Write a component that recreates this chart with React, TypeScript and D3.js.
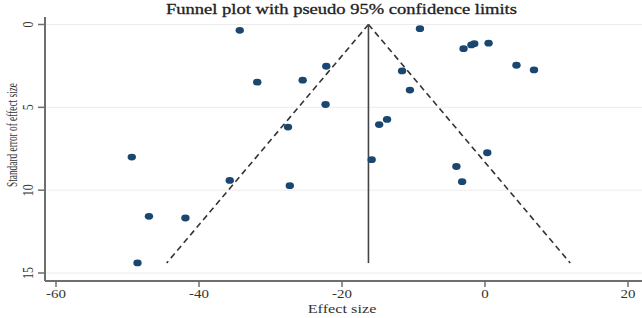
import React from "react";
import * as d3 from "d3";

// study estimates
const effectSizes = [
  -34.3, -9.1, -3.0, -1.9, -1.5, 0.5, 4.4, 6.85, -31.85, -25.5, -22.2, -11.6,
  -10.5, -22.3, -27.55, -14.8, -13.7, -49.4, -15.85, 0.32, -4.0, -3.2, -35.7,
  -27.3, -47.0, -41.9, -48.6,
];
const standardErrors = [
  0.35, 0.25, 1.46, 1.23, 1.16, 1.13, 2.46, 2.74, 3.48, 3.36, 2.52, 2.8, 3.96,
  4.83, 6.19, 6.04, 5.73, 8.0, 8.16, 7.74, 8.57, 9.49, 9.41, 9.73, 11.58,
  11.68, 14.39,
];
const pooledEffect = [-16.3];
const maxSE = [14.4];
const xTicks = [-60, -40, -20, 0, 20];
const yTicks = [0, 5, 10, 15];

const W = 642;
const H = 318;
const FONT = "'Liberation Serif', 'Times New Roman', serif";
const STRETCH = 1.3; // the picture is wider than tall, glyphs look stretched

const App = () => {
  const x = d3.scaleLinear().domain([-60, 20]).range([56, 628]);
  const y = d3.scaleLinear().domain([0, 15]).range([24.5, 273]);
  const left = 45;
  const bottom = 281;

  const centre = pooledEffect[0];
  const seMax = maxSE[0];
  const line = d3
    .line<[number, number]>()
    .x((d) => x(d[0]))
    .y((d) => y(d[1]));
  const leftLimit = line([
    [centre, 0],
    [centre - 1.96 * seMax, seMax],
  ]);
  const rightLimit = line([
    [centre, 0],
    [centre + 1.96 * seMax, seMax],
  ]);

  return (
    <svg
      width={W}
      height={H}
      style={{ position: "absolute", left: 0, top: 0, background: "#fff" }}
      fontFamily={FONT}
    >
      {/* grid */}
      {yTicks.map((t) => (
        <line key={"g" + t} x1={left} x2={W} y1={y(t)} y2={y(t)} stroke="#ececec" strokeWidth={1} />
      ))}

      {/* title */}
      <text
        x={166}
        y={14}
        fontSize={14.5}
        fill="#222"
        stroke="#222"
        strokeWidth={0.3}
        textLength={351}
        lengthAdjust="spacingAndGlyphs"
      >
        Funnel plot with pseudo 95% confidence limits
      </text>

      {/* y axis */}
      <line x1={left} x2={left} y1={17} y2={bottom} stroke="#6e6e6e" strokeWidth={2} />
      {yTicks.map((t) => (
        <g key={"y" + t}>
          <line x1={left - 7} x2={left} y1={y(t)} y2={y(t)} stroke="#6e6e6e" strokeWidth={1.5} />
          <text
            transform={`translate(33,${y(t)}) rotate(-90) scale(1,${STRETCH})`}
            textAnchor="middle"
            fontSize={12}
            fill="#333"
          >
            {t}
          </text>
        </g>
      ))}
      <text
        transform={`translate(17,135) rotate(-90) scale(1,1.45)`}
        textAnchor="middle"
        fontSize={9.5}
        fill="#333"
        textLength={104}
        lengthAdjust="spacingAndGlyphs"
      >
        Standard error of effect size
      </text>

      {/* x axis */}
      <line x1={left} x2={W} y1={bottom} y2={bottom} stroke="#6e6e6e" strokeWidth={2} />
      {xTicks.map((t) => (
        <g key={"x" + t}>
          <line x1={x(t)} x2={x(t)} y1={bottom} y2={bottom + 6} stroke="#6e6e6e" strokeWidth={1.5} />
          <text
            transform={`translate(${x(t)},297.5) scale(${STRETCH},1)`}
            textAnchor="middle"
            fontSize={11.5}
            fill="#333"
          >
            {t}
          </text>
        </g>
      ))}
      <text
        transform={`translate(342,312.5) scale(${STRETCH},1)`}
        textAnchor="middle"
        fontSize={12.5}
        fill="#333"
      >
        Effect size
      </text>

      {/* funnel */}
      <path d={leftLimit ?? ""} fill="none" stroke="#333" strokeWidth={1.6} strokeDasharray="6,4" />
      <path d={rightLimit ?? ""} fill="none" stroke="#333" strokeWidth={1.6} strokeDasharray="6,4" />
      <line x1={x(centre)} x2={x(centre)} y1={y(0)} y2={y(seMax)} stroke="#444" strokeWidth={1.6} />

      {/* studies */}
      {effectSizes.map((e, i) => (
        <ellipse key={"p" + i} cx={x(e)} cy={y(standardErrors[i])} rx={4.2} ry={3.4} fill="#1a476f" />
      ))}
    </svg>
  );
};

export default App;
